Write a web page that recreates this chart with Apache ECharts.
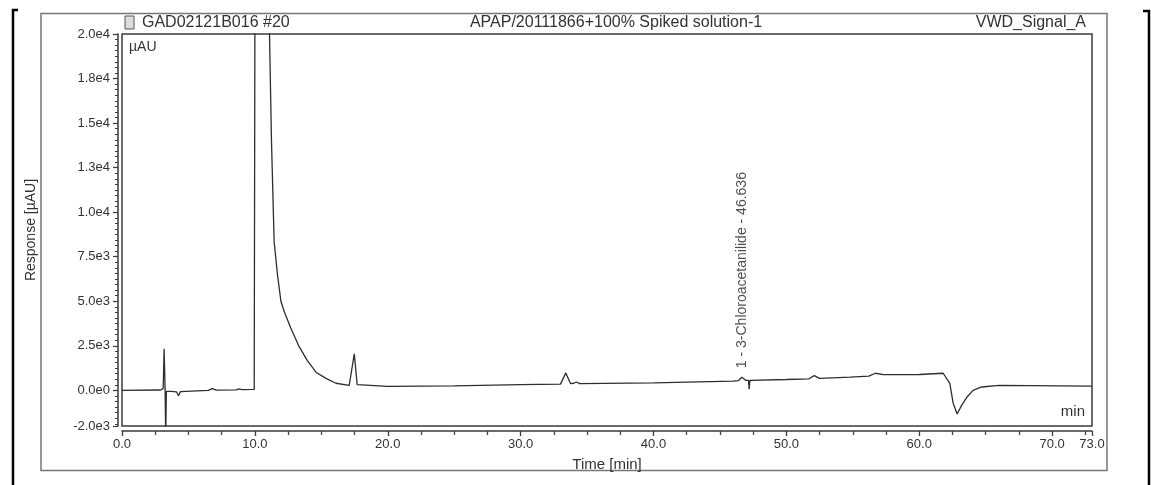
<!DOCTYPE html>
<html>
<head>
<meta charset="utf-8">
<script src="https://cdn.jsdelivr.net/npm/echarts@6/dist/echarts.min.js"></script>
<style>
  html, body { margin: 0; padding: 0; background: #fff; }
  #chart { width: 1151px; height: 485px; }
</style>
</head>
<body>
<div id="chart"></div>
<script>
// ---- Chromatogram trace (time in min, response in µAU) ----
const times = [
  0, 2.9, 3.1, 3.17, 3.24, 3.29, 3.34, 3.45, 3.7, 4.1, 4.25, 4.4,
  6.5, 6.8, 7.1, 8.6, 8.8, 9.0, 9.95, 10.0, 10.05, 10.95, 11.1, 11.25,
  11.45, 11.7, 11.96, 12.2, 12.7, 13.3, 13.95, 14.6, 15.35, 16.1, 17.1, 17.25,
  17.48, 17.7, 17.85, 20, 25, 30, 33.0, 33.4, 33.75, 34.0, 34.2, 34.45,
  40, 46.0, 46.4, 46.65, 46.95, 47.15, 47.2, 47.25, 50, 51.7, 52.1, 52.5,
  54.8, 56.2, 56.7, 57.3, 60, 61.8, 62.3, 62.55, 62.85, 63.2, 63.6, 64.05,
  64.7, 66, 73
];
const responses = [
  0, 20, 100, 2330, 200, -2600, -60, -50, -60, -80, -300, -70,
  0, 100, 10, 30, 80, 40, 50, 50, 40000, 40000, 20000, 14000,
  8333, 6500, 5000, 4440, 3500, 2500, 1670, 1020, 670, 400, 280, 300,
  2050, 320, 240, 220, 250, 320, 350, 980, 380, 400, 470, 380,
  425, 520, 550, 740, 560, 560, 60, 560, 610, 650, 830, 670,
  740, 800, 960, 880, 890, 960, 390, -720, -1330, -830, -370, 0,
  190, 280, 240
];

// ---- Peak annotation ----
const peakLabels = ['1 - 3-Chloroacetanilide - 46.636'];
const peakTimes = [46.636];
const peakHeights = [740];

// ---- Axis tick labels ----
const xTickLabels = [0, 10, 20, 30, 40, 50, 60, 70, 73];
const xMinorTicks = [2.5, 5, 7.5, 12.5, 15, 17.5, 22.5, 25, 27.5, 32.5, 35, 37.5,
  42.5, 45, 47.5, 52.5, 55, 57.5, 62.5, 65, 67.5, 72.5];
const yTickLabels = [-2000, 0, 2500, 5000, 7500, 10000, 12500, 15000, 17500, 20000];

const yMinorTicks = [-2000];
for (let v = -1875; v <= 20000; v += 312.5) yMinorTicks.push(v);

const FONT = '"Liberation Sans", Arial, sans-serif';
const TXT = '#333';
const LINE = '#3a3a3a';

const trace = times.map((t, i) => [t, responses[i]]);
const peaks = peakTimes.map((t, i) => ({ value: [t, peakHeights[i]], name: peakLabels[i] }));

const chart = echarts.init(document.getElementById('chart'), null, { renderer: 'canvas' });

const baseX = {
  type: 'value', min: 0, max: 73, offset: 5, position: 'bottom',
  splitLine: { show: false },
  axisLine: { show: true, onZero: false, lineStyle: { color: LINE, width: 1.5 } }
};
const baseY = {
  type: 'value', min: -2000, max: 20000, offset: 4, position: 'left',
  splitLine: { show: false },
  axisLine: { show: true, onZero: false, lineStyle: { color: LINE, width: 1.5 } }
};

chart.setOption({
  animation: false,
  backgroundColor: '#fff',
  textStyle: { fontFamily: FONT },
  grid: {
    left: 122, right: 59, top: 34, bottom: 59,
    show: true, borderColor: LINE, borderWidth: 1.5, backgroundColor: 'transparent'
  },
  xAxis: [
    Object.assign({}, baseX, {
      name: 'Time [min]', nameLocation: 'middle', nameGap: 26,
      nameTextStyle: { color: TXT, fontSize: 15, fontFamily: FONT },
      axisTick: { show: true, length: 5, customValues: xTickLabels, lineStyle: { color: LINE, width: 1.3 } },
      axisLabel: {
        customValues: xTickLabels, color: TXT, fontSize: 13, fontFamily: FONT, margin: 7,
        formatter: v => Number(v).toFixed(1)
      }
    }),
    Object.assign({}, baseX, {
      axisLine: { show: false, onZero: false },
      axisTick: { show: true, length: 4, customValues: xMinorTicks, lineStyle: { color: '#444', width: 1.3 } },
      axisLabel: { show: false }
    })
  ],
  yAxis: [
    Object.assign({}, baseY, {
      name: 'Response [µAU]', nameLocation: 'middle', nameGap: 80, nameRotate: 90,
      nameTextStyle: { color: TXT, fontSize: 14, fontFamily: FONT },
      axisTick: { show: true, length: 5, customValues: yTickLabels, lineStyle: { color: LINE, width: 1.2 } },
      axisLabel: {
        customValues: yTickLabels, color: TXT, fontSize: 13, fontFamily: FONT, margin: 8,
        formatter: v => Number(v).toExponential(1).replace('e+', 'e')
      }
    }),
    Object.assign({}, baseY, {
      axisLine: { show: false, onZero: false },
      axisTick: { show: true, length: 3, customValues: yMinorTicks, lineStyle: { color: LINE, width: 1 } },
      axisLabel: { show: false }
    })
  ],
  series: [
    {
      type: 'line', xAxisIndex: 0, yAxisIndex: 0,
      data: trace, showSymbol: false, clip: true,
      lineStyle: { color: '#2e2e2e', width: 1.3 },
      silent: true
    },
    {
      type: 'scatter', xAxisIndex: 0, yAxisIndex: 0,
      data: peaks, symbolSize: 0, silent: true,
      label: {
        show: true, position: 'top', distance: 9, rotate: 90,
        align: 'left', verticalAlign: 'middle',
        formatter: p => p.name, color: '#222', fontSize: 14, fontFamily: FONT
      }
    }
  ],
  graphic: [
    { type: 'rect', silent: true, shape: { x: 41, y: 13.5, width: 1066, height: 457 },
      style: { fill: 'none', stroke: '#777', lineWidth: 1.5 } },
    { type: 'polyline', silent: true, shape: { points: [[18, 10], [13, 10], [13, 485]] },
      style: { fill: 'none', stroke: '#000', lineWidth: 2.5 } },
    { type: 'polyline', silent: true, shape: { points: [[1143, 11], [1149, 11], [1149, 485]] },
      style: { fill: 'none', stroke: '#000', lineWidth: 2.5 } },
    { type: 'rect', silent: true, shape: { x: 125, y: 16, width: 9, height: 13 },
      style: { fill: '#ddd', stroke: '#555', lineWidth: 1 } },
    { type: 'text', silent: true, x: 142, y: 23,
      style: { text: 'GAD02121B016 #20', fill: TXT, font: '16px ' + FONT, textVerticalAlign: 'middle', textAlign: 'left' } },
    { type: 'text', silent: true, x: 616, y: 23,
      style: { text: 'APAP/20111866+100% Spiked solution-1', fill: TXT, font: '16px ' + FONT, textVerticalAlign: 'middle', textAlign: 'center' } },
    { type: 'text', silent: true, x: 1086, y: 23,
      style: { text: 'VWD_Signal_A', fill: TXT, font: '16px ' + FONT, textVerticalAlign: 'middle', textAlign: 'right' } },
    { type: 'text', silent: true, x: 129, y: 47,
      style: { text: 'µAU', fill: TXT, font: '14px ' + FONT, textVerticalAlign: 'middle', textAlign: 'left' } },
    { type: 'text', silent: true, x: 1085, y: 412,
      style: { text: 'min', fill: TXT, font: '15px ' + FONT, textVerticalAlign: 'middle', textAlign: 'right' } }
  ]
});
</script>
</body>
</html>
